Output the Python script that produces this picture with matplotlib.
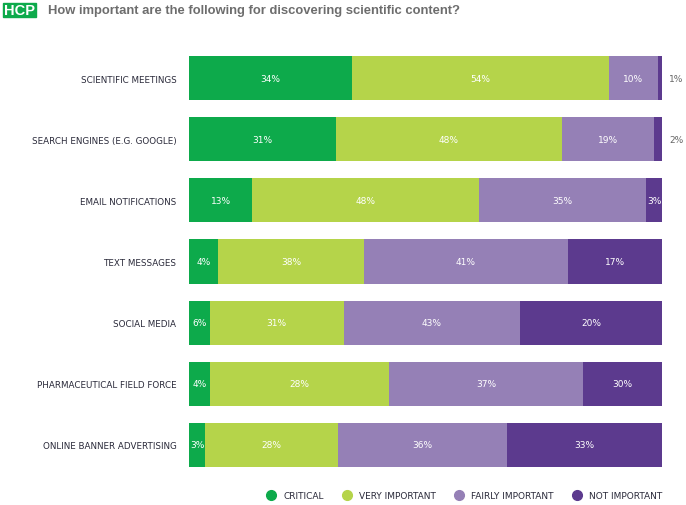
import matplotlib
matplotlib.use('Agg')
import matplotlib.pyplot as plt
from matplotlib.lines import Line2D
from matplotlib.patches import Rectangle

# Data
categories = ['SCIENTIFIC MEETINGS', 'SEARCH ENGINES (E.G. GOOGLE)', 'EMAIL NOTIFICATIONS',
              'TEXT MESSAGES', 'SOCIAL MEDIA', 'PHARMACEUTICAL FIELD FORCE',
              'ONLINE BANNER ADVERTISING']
series = ['CRITICAL', 'VERY IMPORTANT', 'FAIRLY IMPORTANT', 'NOT IMPORTANT']

# bar lengths as drawn (%)
critical = [34.5, 31.0, 13.4, 6.2, 4.4, 4.4, 3.4]
very_important = [54.3, 47.8, 47.9, 30.8, 28.3, 37.9, 28.1]
fairly_important = [10.3, 19.5, 35.4, 43.1, 37.3, 41.0, 35.7]
not_important = [0.9, 1.7, 3.4, 19.9, 30.0, 16.7, 32.8]

# labels as printed
critical_lbl = [34, 31, 13, 4, 6, 4, 3]
very_lbl = [54, 48, 48, 38, 31, 28, 28]
fairly_lbl = [10, 19, 35, 41, 43, 37, 36]
not_lbl = [1, 2, 3, 17, 20, 30, 33]

colors = ['#0daa4b', '#b5d44a', '#9580b6', '#5c3a8e']

plt.rcParams['font.family'] = ['DejaVu Sans']

fig = plt.figure(figsize=(6.86, 5.06), dpi=100)
ax = fig.add_axes([189 / 686, 1 - 476.5 / 506, 473 / 686, 428 / 506])

vals = [critical, very_important, fairly_important, not_important]
lbls = [critical_lbl, very_lbl, fairly_lbl, not_lbl]
ypos = list(range(len(categories)))
left = [0.0] * len(categories)
for s in range(4):
    ax.barh(ypos, vals[s], left=left, height=0.72, color=colors[s], edgecolor='none')
    for i in ypos:
        w = vals[s][i]
        if w < 2.5:
            ax.text(101.5, i, '%d%%' % lbls[s][i], ha='left', va='center',
                    fontsize=6.5, color='#666666', clip_on=False)
        else:
            ax.text(left[i] + w / 2, i, '%d%%' % lbls[s][i], ha='center', va='center',
                    fontsize=6.5, color='white')
        left[i] += w

ax.set_xlim(0, 100)
ax.set_ylim(len(categories) - 0.5, -0.5)
ax.set_yticks(ypos)
ax.set_yticklabels(categories, fontsize=6.3, color='#2a2a3a')
ax.tick_params(axis='y', length=0, pad=9)
ax.set_xticks([])
for sp in ax.spines.values():
    sp.set_visible(False)

# header
fig.patches.append(Rectangle((3 / 686, 1 - 18 / 506), 33 / 686, 14 / 506,
                             transform=fig.transFigure, color='#0daa4b'))
fig.text(19.5 / 686, 1 - 11 / 506, 'HCP', ha='center', va='center', color='white',
         fontsize=10.5, fontweight='bold', family='Liberation Sans')
fig.text(48 / 686, 1 - 11 / 506, 'How important are the following for discovering scientific content?',
         ha='left', va='center', color='#6d6d6d', fontsize=9.4, fontweight='bold',
         family='Liberation Sans')

handles = [Line2D([], [], marker='o', linestyle='none', markersize=7,
                  markerfacecolor=c, markeredgecolor=c) for c in colors]
fig.legend(handles, series, loc='center', bbox_to_anchor=(462 / 686, 1 - 497 / 506),
           ncol=4, frameon=False, fontsize=6.5, handletextpad=0.3, columnspacing=1.6,
           labelcolor='#2a2a3a')

fig.savefig('out.png', dpi=100)
